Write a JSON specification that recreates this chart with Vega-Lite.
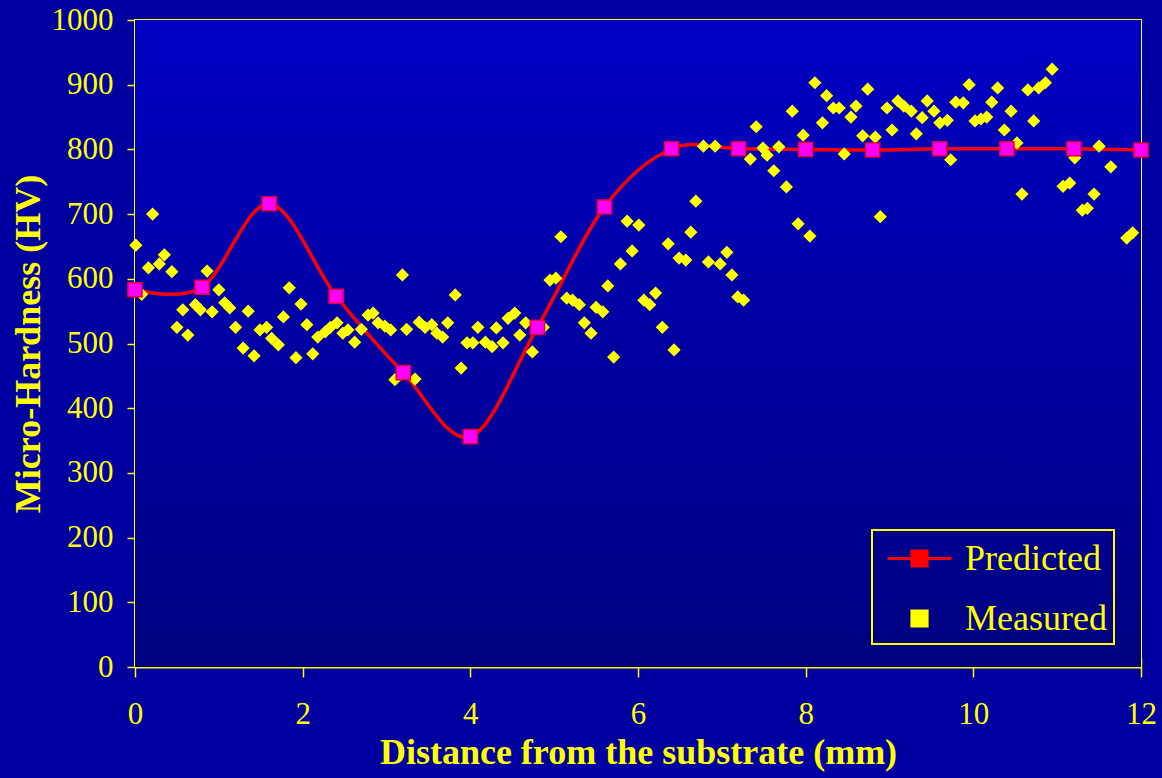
{
  "$schema": "https://vega.github.io/schema/vega-lite/v6.json",
  "width": 1006,
  "height": 647,
  "autosize": {"type": "none"},
  "padding": {"left": 135, "top": 20, "right": 21, "bottom": 111},
  "background": "#0000A0",
  "datasets": {
    "predicted": [
      {"x": 0, "hv": 583}, {"x": 0.8, "hv": 587}, {"x": 1.6, "hv": 716}, {"x": 2.4, "hv": 573},
      {"x": 3.2, "hv": 455}, {"x": 4.0, "hv": 356}, {"x": 4.8, "hv": 525}, {"x": 5.6, "hv": 711},
      {"x": 6.4, "hv": 801}, {"x": 7.2, "hv": 801}, {"x": 8.0, "hv": 800}, {"x": 8.8, "hv": 799},
      {"x": 9.6, "hv": 801}, {"x": 10.4, "hv": 801}, {"x": 11.2, "hv": 801}, {"x": 12.0, "hv": 799}
    ],
    "measured": [
      {"x": 0.01, "hv": 652}, {"x": 0.08, "hv": 576}, {"x": 0.16, "hv": 617}, {"x": 0.21, "hv": 700},
      {"x": 0.29, "hv": 623}, {"x": 0.35, "hv": 637}, {"x": 0.44, "hv": 611}, {"x": 0.50, "hv": 525},
      {"x": 0.57, "hv": 552}, {"x": 0.63, "hv": 513}, {"x": 0.72, "hv": 560}, {"x": 0.78, "hv": 552},
      {"x": 0.86, "hv": 612}, {"x": 0.92, "hv": 549}, {"x": 1.00, "hv": 583}, {"x": 1.07, "hv": 563},
      {"x": 1.13, "hv": 555}, {"x": 1.20, "hv": 525}, {"x": 1.29, "hv": 493}, {"x": 1.35, "hv": 550},
      {"x": 1.42, "hv": 481}, {"x": 1.49, "hv": 521}, {"x": 1.57, "hv": 525}, {"x": 1.63, "hv": 508},
      {"x": 1.71, "hv": 498}, {"x": 1.77, "hv": 541}, {"x": 1.84, "hv": 586}, {"x": 1.92, "hv": 478},
      {"x": 1.98, "hv": 561}, {"x": 2.05, "hv": 529}, {"x": 2.12, "hv": 484}, {"x": 2.18, "hv": 510},
      {"x": 2.27, "hv": 518}, {"x": 2.33, "hv": 525}, {"x": 2.41, "hv": 532}, {"x": 2.48, "hv": 516},
      {"x": 2.54, "hv": 521}, {"x": 2.62, "hv": 502}, {"x": 2.70, "hv": 522}, {"x": 2.78, "hv": 544},
      {"x": 2.84, "hv": 547}, {"x": 2.90, "hv": 532}, {"x": 2.98, "hv": 527}, {"x": 3.05, "hv": 521},
      {"x": 3.10, "hv": 444}, {"x": 3.19, "hv": 606}, {"x": 3.24, "hv": 522}, {"x": 3.34, "hv": 445},
      {"x": 3.39, "hv": 533}, {"x": 3.46, "hv": 525}, {"x": 3.54, "hv": 529}, {"x": 3.60, "hv": 516},
      {"x": 3.67, "hv": 510}, {"x": 3.73, "hv": 532}, {"x": 3.82, "hv": 575}, {"x": 3.89, "hv": 462},
      {"x": 3.96, "hv": 501}, {"x": 4.03, "hv": 501}, {"x": 4.09, "hv": 525}, {"x": 4.18, "hv": 502},
      {"x": 4.26, "hv": 495}, {"x": 4.31, "hv": 524}, {"x": 4.39, "hv": 501}, {"x": 4.45, "hv": 539},
      {"x": 4.53, "hv": 547}, {"x": 4.59, "hv": 513}, {"x": 4.66, "hv": 532}, {"x": 4.74, "hv": 487},
      {"x": 4.87, "hv": 525}, {"x": 4.95, "hv": 598}, {"x": 5.02, "hv": 601}, {"x": 5.08, "hv": 665},
      {"x": 5.15, "hv": 570}, {"x": 5.22, "hv": 567}, {"x": 5.30, "hv": 560}, {"x": 5.36, "hv": 532},
      {"x": 5.44, "hv": 516}, {"x": 5.50, "hv": 556}, {"x": 5.58, "hv": 549}, {"x": 5.64, "hv": 589},
      {"x": 5.71, "hv": 479}, {"x": 5.79, "hv": 623}, {"x": 5.87, "hv": 689}, {"x": 5.93, "hv": 643},
      {"x": 6.01, "hv": 683}, {"x": 6.07, "hv": 567}, {"x": 6.14, "hv": 560}, {"x": 6.21, "hv": 578},
      {"x": 6.29, "hv": 525}, {"x": 6.36, "hv": 654}, {"x": 6.43, "hv": 490}, {"x": 6.49, "hv": 632},
      {"x": 6.57, "hv": 629}, {"x": 6.63, "hv": 672}, {"x": 6.69, "hv": 720}, {"x": 6.78, "hv": 805},
      {"x": 6.84, "hv": 626}, {"x": 6.92, "hv": 805}, {"x": 6.98, "hv": 623}, {"x": 7.06, "hv": 641},
      {"x": 7.12, "hv": 606}, {"x": 7.19, "hv": 572}, {"x": 7.26, "hv": 567}, {"x": 7.34, "hv": 785},
      {"x": 7.41, "hv": 835}, {"x": 7.49, "hv": 802}, {"x": 7.54, "hv": 791}, {"x": 7.62, "hv": 767},
      {"x": 7.68, "hv": 804}, {"x": 7.77, "hv": 742}, {"x": 7.84, "hv": 859}, {"x": 7.91, "hv": 685},
      {"x": 7.97, "hv": 822}, {"x": 8.05, "hv": 666}, {"x": 8.11, "hv": 903}, {"x": 8.20, "hv": 841},
      {"x": 8.25, "hv": 883}, {"x": 8.33, "hv": 864}, {"x": 8.40, "hv": 864}, {"x": 8.46, "hv": 793},
      {"x": 8.54, "hv": 850}, {"x": 8.60, "hv": 867}, {"x": 8.68, "hv": 821}, {"x": 8.74, "hv": 893},
      {"x": 8.83, "hv": 819}, {"x": 8.89, "hv": 696}, {"x": 8.97, "hv": 864}, {"x": 9.03, "hv": 830},
      {"x": 9.10, "hv": 875}, {"x": 9.17, "hv": 867}, {"x": 9.26, "hv": 859}, {"x": 9.32, "hv": 824},
      {"x": 9.39, "hv": 849}, {"x": 9.45, "hv": 875}, {"x": 9.53, "hv": 859}, {"x": 9.60, "hv": 841},
      {"x": 9.69, "hv": 845}, {"x": 9.73, "hv": 784}, {"x": 9.79, "hv": 873}, {"x": 9.88, "hv": 872},
      {"x": 9.95, "hv": 900}, {"x": 10.02, "hv": 844}, {"x": 10.09, "hv": 847}, {"x": 10.16, "hv": 850},
      {"x": 10.22, "hv": 873}, {"x": 10.29, "hv": 895}, {"x": 10.37, "hv": 830}, {"x": 10.45, "hv": 859},
      {"x": 10.52, "hv": 810}, {"x": 10.58, "hv": 731}, {"x": 10.65, "hv": 892}, {"x": 10.72, "hv": 844},
      {"x": 10.78, "hv": 895}, {"x": 10.86, "hv": 903}, {"x": 10.94, "hv": 924}, {"x": 11.07, "hv": 743},
      {"x": 11.15, "hv": 748}, {"x": 11.21, "hv": 787}, {"x": 11.30, "hv": 706}, {"x": 11.36, "hv": 709},
      {"x": 11.44, "hv": 731}, {"x": 11.50, "hv": 805}, {"x": 11.64, "hv": 773}, {"x": 11.83, "hv": 663},
      {"x": 11.90, "hv": 671}
    ]
  },
  "resolve": {"axis": {"x": "independent"}},
  "layer": [
    {
      "data": {"values": [{}]},
      "mark": {
        "type": "rect",
        "color": {
          "gradient": "linear", "x1": 0, "y1": 0, "x2": 0, "y2": 1,
          "stops": [{"offset": 0, "color": "#0000C4"}, {"offset": 1, "color": "#000080"}]
        }
      },
      "encoding": {
        "x": {"datum": 0, "type": "quantitative", "axis": null},
        "x2": {"datum": 12},
        "y": {"datum": 0, "type": "quantitative"},
        "y2": {"datum": 1000}
      }
    },
    {
      "data": {"name": "predicted"},
      "mark": {"type": "line", "interpolate": "cardinal", "strokeWidth": 3.5},
      "encoding": {
        "x": {
          "field": "x", "type": "quantitative",
          "scale": {"domain": [0, 12], "nice": false, "zero": false},
          "axis": {
            "values": [0, 2, 4, 6, 8, 10, 12],
            "labelFlush": false,
            "tickSize": 10, "tickWidth": 1.5, "tickColor": "#FFFF00",
            "domainColor": "#FFFF00", "domainWidth": 2,
            "labelFont": "Liberation Serif", "labelFontSize": 31, "labelColor": "#FFFF00", "labelPadding": 22,
            "grid": false,
            "title": "Distance from the substrate (mm)",
            "titleFont": "Liberation Serif", "titleFontSize": 36, "titleFontWeight": "bold", "titleColor": "#FFFF00",
            "titlePadding": 6
          }
        },
        "y": {
          "field": "hv", "type": "quantitative",
          "scale": {"domain": [0, 1000], "nice": false},
          "axis": {
            "values": [0, 100, 200, 300, 400, 500, 600, 700, 800, 900, 1000],
            "format": "d",
            "labelFlush": false,
            "tickSize": 8, "tickWidth": 1.5, "tickColor": "#FFFF00",
            "domainColor": "#FFFF00", "domainWidth": 2,
            "labelFont": "Liberation Serif", "labelFontSize": 31, "labelColor": "#FFFF00", "labelPadding": 14,
            "grid": false,
            "title": "Micro-Hardness (HV)",
            "titleFont": "Liberation Serif", "titleFontSize": 36, "titleFontWeight": "bold", "titleColor": "#FFFF00",
            "titlePadding": 4
          }
        },
        "color": {
          "datum": "Predicted",
          "scale": {"domain": ["Predicted", "Measured"], "range": ["#FF0000", "#FFFF00"]},
          "legend": {
            "orient": "none", "legendX": 737, "legendY": 510, "direction": "vertical",
            "title": null, "padding": 7, "strokeColor": "#FFFF00",
            "labelFont": "Liberation Serif", "labelFontSize": 36, "labelColor": "#FFFF00",
            "symbolSize": 1600, "rowPadding": 20, "labelOffset": 24, "symbolOffset": 19,
            "labelLimit": 400,
            "encode": {
              "legend": {"update": {"strokeWidth": {"value": 2}}},
              "symbols": {
                "update": {
                  "shape": {"signal": "datum.value === 'Predicted' ? 'M-1.6,0H1.6M-0.38,-0.38H0.38V0.38H-0.38Z' : 'M-0.38,-0.38H0.38V0.38H-0.38Z'"},
                  "fill": {"signal": "datum.value === 'Predicted' ? '#FF0000' : '#FFFF00'"},
                  "stroke": {"signal": "datum.value === 'Predicted' ? '#FF0000' : '#FFFF00'"},
                  "strokeWidth": {"value": 3},
                  "opacity": {"value": 1},
                  "fillOpacity": {"value": 1},
                  "strokeOpacity": {"value": 1}
                }
              }
            }
          }
        }
      }
    },
    {
      "data": {"name": "measured"},
      "mark": {"type": "point", "shape": "diamond", "filled": true, "size": 175, "opacity": 1},
      "encoding": {
        "x": {"field": "x", "type": "quantitative", "axis": null},
        "y": {"field": "hv", "type": "quantitative"},
        "color": {"datum": "Measured"}
      }
    },
    {
      "data": {"name": "predicted"},
      "mark": {"type": "point", "shape": "square", "filled": true, "size": 200, "opacity": 1,
               "fill": "#FF00FF", "stroke": "#E8003A", "strokeWidth": 1.5},
      "encoding": {
        "x": {
          "field": "x", "type": "quantitative",
          "axis": {
            "orient": "bottom",
            "values": [0, 1, 2, 3, 4, 5, 6, 7, 8, 9, 10, 11, 12],
            "tickSize": -9, "tickWidth": 1.5, "tickColor": "#FFFF00",
            "labels": false, "domain": false, "grid": false, "title": null
          }
        },
        "y": {"field": "hv", "type": "quantitative"}
      }
    }
  ],
  "config": {
    "font": "Liberation Serif",
    "view": {"stroke": "#FFFF00", "strokeWidth": 2}
  }
}
